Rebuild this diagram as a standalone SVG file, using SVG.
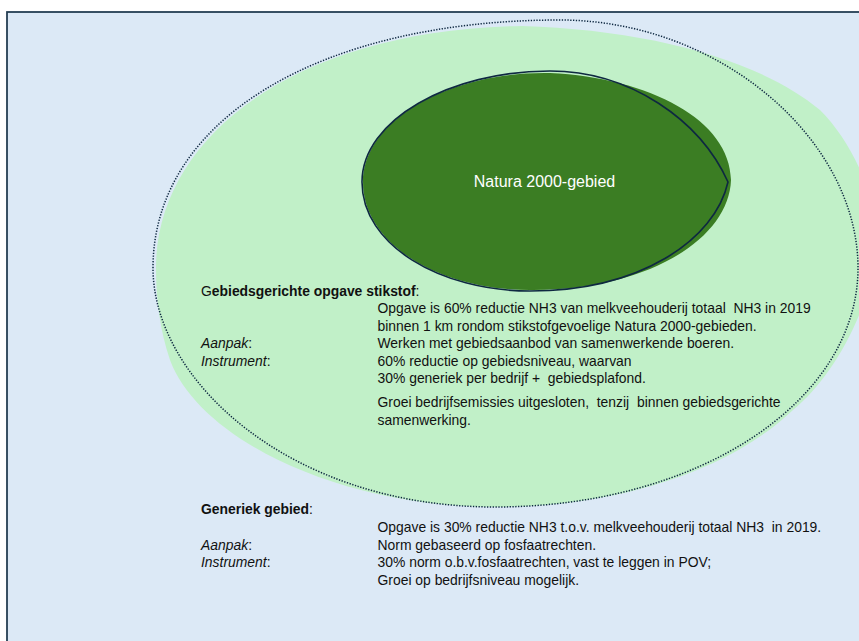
<svg xmlns="http://www.w3.org/2000/svg" width="859" height="641" viewBox="0 0 859 641">
  <defs>
    <style>
      .t { font-family: "Liberation Sans", Arial, sans-serif; font-size: 13.9px; fill: #111111; }
      .b { font-weight: bold; }
      .i { font-style: italic; }
      .lbl { font-family: "Liberation Sans", Arial, sans-serif; font-size: 16px; fill: #ffffff; }
      .dotted { fill: none; stroke: #0e2841; stroke-width: 1.5; stroke-dasharray: 1.3 1.5; }
      .outline { fill: none; stroke: #0e2841; stroke-width: 1.6; }
    </style>
  </defs>
  <rect x="0" y="0" width="859" height="641" fill="#ffffff"/>
  <g id="frame">
    <rect x="7" y="12" width="870" height="650" fill="#dce9f6" stroke="#1f3a4f" stroke-width="1.75"/>
  </g>
  <g id="gebiedsgericht-gebied">
    <path d="M 156,268 C 156,140 290,30 522,26 C 650,30 760,60 820,110 C 860,150 885,220 875,260 C 865,320 830,380 793,410 C 730,470 620,507 495,507 C 340,507 200,440 170,360 C 160,330 156,300 156,268 Z" fill="#c1f0c8"/>
    <path class="dotted" d="M 153,268 C 153,120 320,20 560,20 C 720,20 858,140 858,268 C 858,400 700,507 495,507 C 290,507 153,380 153,268 Z"/>
  </g>
  <g id="natura-2000">
    <path d="M 363,182 C 363,120 450,71 550,73 C 650,78 730,120 731,180 C 729,240 645,291 530,290 C 440,290 363,245 363,182 Z" fill="#3b7d23"/>
    <path class="outline" d="M 362,182 C 362,120 450,71 550,71 C 630,71 700,120 728,182 C 715,240 640,291 530,291 C 440,291 362,245 362,182 Z"/>
    <text class="lbl" x="544.5" y="186.5" text-anchor="middle">Natura 2000-gebied</text>
  </g>
  <g id="connectors"/>
  <g id="tekst-gebiedsgericht">
    <text class="t" x="201" y="296">G<tspan class="b">ebiedsgerichte opgave stikstof</tspan>:</text>
    <text class="t" x="377.5" y="312.5" xml:space="preserve">Opgave is 60% reductie NH3 van melkveehouderij totaal  NH3 in 2019</text>
    <text class="t" x="377.5" y="330.5">binnen 1 km rondom stikstofgevoelige Natura 2000-gebieden.</text>
    <text class="t" x="201" y="348"><tspan class="i">Aanpak</tspan>:</text>
    <text class="t" x="377.5" y="348">Werken met gebiedsaanbod van samenwerkende boeren.</text>
    <text class="t" x="201" y="365.5"><tspan class="i">Instrument</tspan>:</text>
    <text class="t" x="377.5" y="365.5">60% reductie op gebiedsniveau, waarvan</text>
    <text class="t" x="377.5" y="383" xml:space="preserve">30% generiek per bedrijf +  gebiedsplafond.</text>
    <text class="t" x="377.5" y="407" xml:space="preserve">Groei bedrijfsemissies uitgesloten,  tenzij  binnen gebiedsgerichte</text>
    <text class="t" x="377.5" y="424.5">samenwerking.</text>
  </g>
  <g id="tekst-generiek">
    <text class="t" x="201" y="514"><tspan class="b">Generiek gebied</tspan>:</text>
    <text class="t" x="377.5" y="531.5" xml:space="preserve">Opgave is 30% reductie NH3 t.o.v. melkveehouderij totaal NH3  in 2019.</text>
    <text class="t" x="201" y="549.5"><tspan class="i">Aanpak</tspan>:</text>
    <text class="t" x="377.5" y="549.5">Norm gebaseerd op fosfaatrechten.</text>
    <text class="t" x="201" y="567"><tspan class="i">Instrument</tspan>:</text>
    <text class="t" x="377.5" y="567">30% norm o.b.v.fosfaatrechten, vast te leggen in POV;</text>
    <text class="t" x="377.5" y="584.5">Groei op bedrijfsniveau mogelijk.</text>
  </g>
</svg>
